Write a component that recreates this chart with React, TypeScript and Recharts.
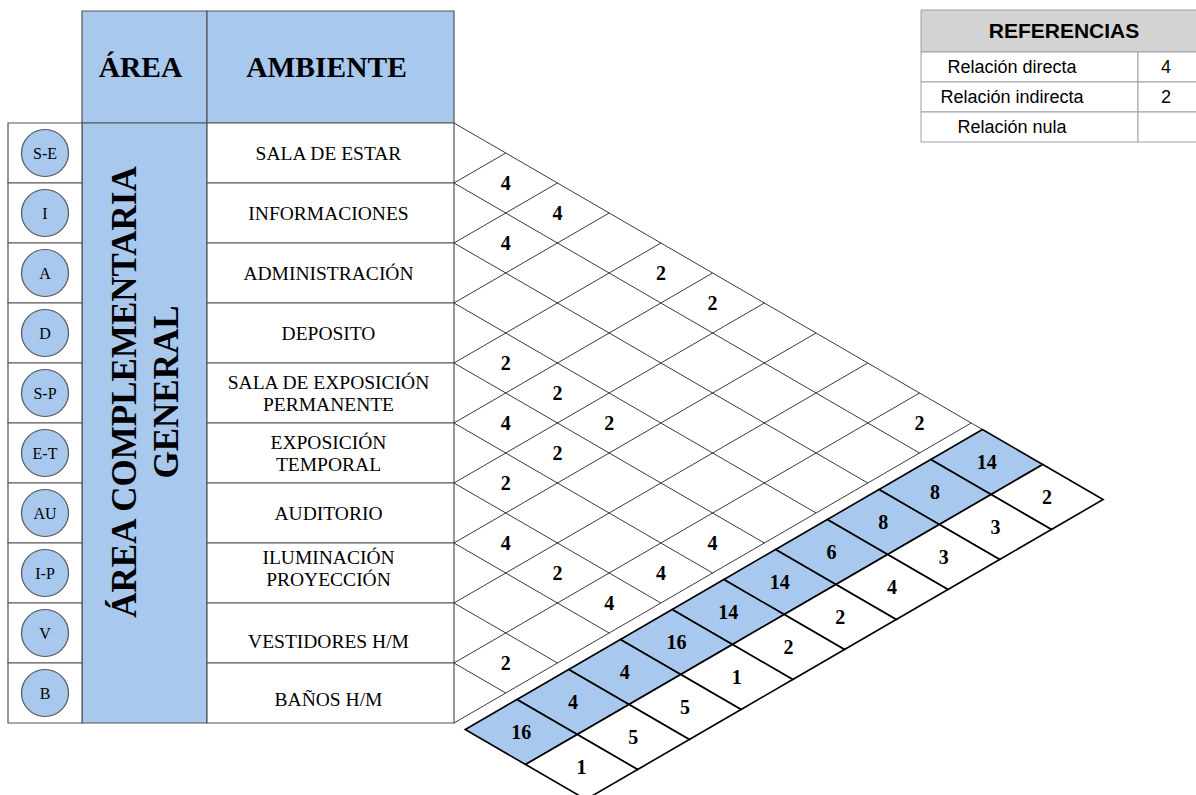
import React from 'react';
import {
  ScatterChart,
  Scatter,
  XAxis,
  YAxis,
  ReferenceArea,
  ReferenceLine
} from 'recharts';

// ---- data ----
const codes = ['S-E', 'I', 'A', 'D', 'S-P', 'E-T', 'AU', 'I-P', 'V', 'B'];
const ambientes = [
  ['SALA DE ESTAR'],
  ['INFORMACIONES'],
  ['ADMINISTRACIÓN'],
  ['DEPOSITO'],
  ['SALA DE EXPOSICIÓN', 'PERMANENTE'],
  ['EXPOSICIÓN', 'TEMPORAL'],
  ['AUDITORIO'],
  ['ILUMINACIÓN', 'PROYECCIÓN'],
  ['VESTIDORES H/M'],
  ['BAÑOS H/M']
];
const headers = ['ÁREA', 'AMBIENTE'];
const areaTitle = ['ÁREA COMPLEMENTARIA', 'GENERAL'];

// [row, row, value] for each filled cell of the matrix
const relations: [number, number, number][] = [
  [0, 1, 4], [0, 2, 4], [1, 2, 4], [0, 4, 2], [0, 5, 2],
  [3, 4, 2], [3, 5, 2], [4, 5, 4], [3, 6, 2], [0, 9, 2],
  [4, 6, 2], [5, 6, 2], [6, 7, 4], [4, 9, 4], [6, 8, 2],
  [5, 9, 4], [6, 9, 4], [8, 9, 2]
];
const totals = [14, 8, 8, 6, 14, 14, 16, 4, 4, 16];
const ranks = [2, 3, 3, 4, 2, 2, 1, 5, 5, 1];

const legendTitle = 'REFERENCIAS';
const legendLabels = ['Relación directa', 'Relación indirecta', 'Relación nula'];
const legendValues = ['4', '2', ''];

// ---- layout (axis domain is 1:1 with the chart's pixels) ----
const W = 1196;
const H = 795;
const N = codes.length;
const TOP = 123;
const ROW = 60;
const BOTTOM = TOP + N * ROW;
const HEAD_TOP = 11;
const X_CODE = 8;
const X_AREA = 82;
const X_AMB = 207;
const X_GRID = 454;
const SLOPE = 0.58;
const STRIP = [736, 806, 876];
const LEG = { x0: 921, x1: 1138, x2: W + 4, y: [10, 52, 82, 112, 142] };

const BLUE = '#a8c8ee';
const LINE = '#555';
const SERIF = '"Liberation Serif", "Times New Roman", serif';
const SANS = '"Liberation Sans", Arial, sans-serif';

// a: offset of the down-right line at the grid edge, b: of the up-right one
const toXY = (a: number, b: number) => ({
  x: X_GRID + (b - a) / (2 * SLOPE),
  y: (a + b) / 2
});
const rowMid = (k: number) => TOP + ROW * (k + 0.5);
const labelNudge: Record<number, number> = { 7: -5, 8: 8, 9: 6 };

const makeText = (size: number, weight: string | number, family: string, lh = 0, rotate = 0) =>
  (p: any) => {
    const lines: string[] = Array.isArray(p.payload.text) ? p.payload.text : [p.payload.text];
    const gap = lh || size * 1.2;
    const y0 = p.cy - ((lines.length - 1) * gap) / 2 + size * 0.35;
    return (
      <text
        textAnchor="middle"
        fontFamily={family}
        fontSize={size}
        fontWeight={weight}
        fill="#000"
        transform={rotate ? `rotate(${rotate} ${p.cx} ${p.cy})` : undefined}
      >
        {lines.map((l, i) => (
          <tspan key={i} x={p.cx} y={y0 + i * gap}>{l}</tspan>
        ))}
      </text>
    );
  };

const stripCell = (p: any) => {
  const ha = ROW / 2;
  const hb = (STRIP[1] - STRIP[0]) / 2;
  const pts = [[-ha, -hb], [-ha, hb], [ha, hb], [ha, -hb]]
    .map(([da, db]) => `${p.cx + (db - da) / (2 * SLOPE)},${p.cy + (da + db) / 2}`)
    .join(' ');
  return <polygon points={pts} fill={p.payload.fill} stroke="#000" strokeWidth={1.6} />;
};

const circleShape = (p: any) => (
  <circle cx={p.cx} cy={p.cy} r={23.5} fill={BLUE} stroke={LINE} strokeWidth={1.2} />
);

// ---- points built from the arrays ----
const codePoints = codes.map((c, k) => ({ x: (X_CODE + X_AREA) / 2, y: rowMid(k), text: c }));
const ambPoints = ambientes.map((t, k) => ({
  x: (X_AMB + X_GRID) / 2 - 2,
  y: rowMid(k) + (labelNudge[k] || 0),
  text: t
}));
const headPoints = headers.map((t, i) => ({
  x: (i === 0 ? (X_AREA + X_AMB) / 2 : (X_AMB + X_GRID) / 2) - 4,
  y: (HEAD_TOP + TOP) / 2,
  text: t
}));
const areaPoints = areaTitle.map((t, i) => ({
  x: (X_AREA + X_AMB) / 2 + (i - 0.5) * 42,
  y: 392,
  text: t
}));
const relPoints = relations.map(([i, j, v]) => ({ ...toXY(rowMid(i), rowMid(j)), text: String(v) }));
const totalCells = totals.map((v, k) => ({
  ...toXY(rowMid(k), (STRIP[0] + STRIP[1]) / 2),
  text: String(v),
  fill: BLUE
}));
const rankCells = ranks.map((v, k) => ({
  ...toXY(rowMid(k), (STRIP[1] + STRIP[2]) / 2),
  text: String(v),
  fill: '#fff'
}));
const legendTitlePoint = [{ x: 1064, y: (LEG.y[0] + LEG.y[1]) / 2, text: legendTitle }];
const legendLabelPoints = legendLabels.map((t, k) => ({ x: 1012, y: (LEG.y[k + 1] + LEG.y[k + 2]) / 2, text: t }));
const legendValuePoints = legendValues.map((t, k) => ({ x: 1166, y: (LEG.y[k + 1] + LEG.y[k + 2]) / 2, text: t }));

// grid lines of the triangle
const gridLines: { p1: { x: number; y: number }; p2: { x: number; y: number } }[] = [];
for (let k = 0; k <= N; k++) {
  const off = TOP + k * ROW;
  // down-right, ends on the bottom edge (top edge runs on to the strip)
  if (k < N) gridLines.push({ p1: toXY(off, off), p2: toXY(off, k === 0 ? STRIP[0] : BOTTOM) });
  // up-right, ends on the top edge
  if (k > 0) gridLines.push({ p1: toXY(off, off), p2: toXY(TOP, off) });
}

const App = () => {
  return (
    <div style={{ position: 'absolute', left: 0, top: 0, background: '#fff' }}>
      <ScatterChart width={W} height={H} margin={{ top: 0, right: 0, bottom: 0, left: 0 }}>
        <XAxis type="number" dataKey="x" domain={[0, W]} hide />
        <YAxis type="number" dataKey="y" domain={[0, H]} reversed hide />

        {/* left table */}
        <ReferenceArea x1={X_AREA} x2={X_AMB} y1={HEAD_TOP} y2={TOP} fill={BLUE} fillOpacity={1} stroke={LINE} strokeWidth={1.2} />
        <ReferenceArea x1={X_AMB} x2={X_GRID} y1={HEAD_TOP} y2={TOP} fill={BLUE} fillOpacity={1} stroke={LINE} strokeWidth={1.2} />
        <ReferenceArea x1={X_AREA} x2={X_AMB} y1={TOP} y2={BOTTOM} fill={BLUE} fillOpacity={1} stroke={LINE} strokeWidth={1.2} />
        {codes.map((c, k) => (
          <ReferenceArea key={'c' + c} x1={X_CODE} x2={X_AREA} y1={TOP + k * ROW} y2={TOP + (k + 1) * ROW} fill="#fff" fillOpacity={1} stroke={LINE} strokeWidth={1.2} />
        ))}
        {codes.map((c, k) => (
          <ReferenceArea key={'a' + c} x1={X_AMB} x2={X_GRID} y1={TOP + k * ROW} y2={TOP + (k + 1) * ROW} fill="#fff" fillOpacity={1} stroke={LINE} strokeWidth={1.2} />
        ))}

        {/* legend table */}
        <ReferenceArea x1={LEG.x0} x2={LEG.x2} y1={LEG.y[0]} y2={LEG.y[1]} fill="#d3d3d3" fillOpacity={1} stroke="#a0a0a0" ifOverflow="visible" />
        {legendLabels.map((t, k) => (
          <ReferenceArea key={'l' + t} x1={LEG.x0} x2={LEG.x1} y1={LEG.y[k + 1]} y2={LEG.y[k + 2]} fill="#fff" fillOpacity={1} stroke="#a0a0a0" />
        ))}
        {legendLabels.map((t, k) => (
          <ReferenceArea key={'v' + t} x1={LEG.x1} x2={LEG.x2} y1={LEG.y[k + 1]} y2={LEG.y[k + 2]} fill="#fff" fillOpacity={1} stroke="#a0a0a0" ifOverflow="visible" />
        ))}

        {/* triangle grid */}
        {gridLines.map((g, i) => (
          <ReferenceLine key={'g' + i} segment={[g.p1, g.p2]} stroke="#3a3a3a" strokeWidth={1} ifOverflow="visible" />
        ))}

        <Scatter data={codePoints} shape={circleShape} isAnimationActive={false} />
        <Scatter data={codePoints} shape={makeText(16, 'normal', SERIF)} isAnimationActive={false} />
        <Scatter data={ambPoints} shape={makeText(19.5, 'normal', SERIF, 22)} isAnimationActive={false} />
        <Scatter data={headPoints} shape={makeText(29.5, 'bold', SERIF)} isAnimationActive={false} />
        <Scatter data={areaPoints} shape={makeText(35, 'bold', SERIF, 0, -90)} isAnimationActive={false} />
        <Scatter data={relPoints} shape={makeText(20, 'bold', SERIF)} isAnimationActive={false} />
        <Scatter data={totalCells} shape={stripCell} isAnimationActive={false} />
        <Scatter data={rankCells} shape={stripCell} isAnimationActive={false} />
        <Scatter data={totalCells} shape={makeText(20, 'bold', SERIF)} isAnimationActive={false} />
        <Scatter data={rankCells} shape={makeText(20, 'bold', SERIF)} isAnimationActive={false} />
        <Scatter data={legendTitlePoint} shape={makeText(21, 'bold', SANS)} isAnimationActive={false} />
        <Scatter data={legendLabelPoints} shape={makeText(18, 'normal', SANS)} isAnimationActive={false} />
        <Scatter data={legendValuePoints} shape={makeText(18, 'normal', SANS)} isAnimationActive={false} />
      </ScatterChart>
    </div>
  );
};

export default App;
